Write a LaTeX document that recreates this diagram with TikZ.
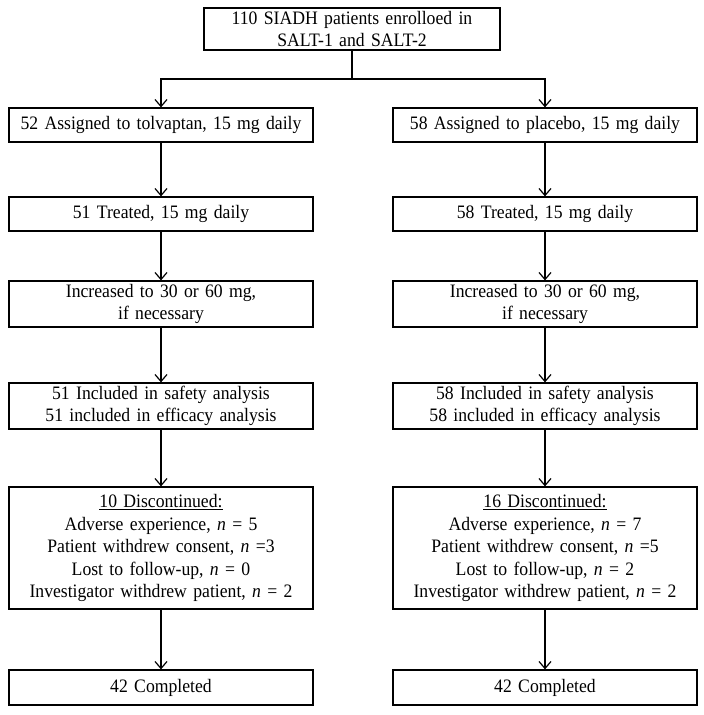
\documentclass[tikz,border=0pt]{standalone}
\usepackage{fontspec}
\setmainfont{Liberation Serif}[FakeStretch=0.93]
\usetikzlibrary{arrows.meta}

\begin{document}
\begin{tikzpicture}[x=1pt, y=-1pt,
    box/.style={draw, line width=1.2pt, inner sep=0pt, align=center, text width=300pt,
      minimum width=304pt, font=\fontsize{19}{22.5}\selectfont},
    flow/.style={line width=1.2pt, -{Straight Barb[length=7pt, width=12pt]}}]
        \useasboundingbox (0,0) rectangle (704,715);
        \node[box, text width=292pt, minimum width=296pt, minimum height=42pt] (enrol) at (352,29)
          {110 SIADH patients enrolloed in\\SALT-1 and SALT-2};
        \coordinate (split) at (352,79);
        % tolvaptan arm
        \node[box, minimum height=34pt] (tolv) at (161,125) {52 Assigned to tolvaptan, 15 mg daily};
        \node[box, minimum height=34pt] (tolvtreat) at (161,214) {51 Treated, 15 mg daily};
        \node[box, minimum height=46pt] (tolvdose) at (161,304) {Increased to 30 or 60 mg,\\if necessary};
        \node[box, minimum height=46pt] (tolvsafe) at (161,406) {51 Included in safety analysis\\51 included in efficacy analysis};
        \node[box, minimum height=122pt] (tolvstop) at (161,548) {\underline{10 Discontinued:}\\
          Adverse experience, \textit{n} = 5\\Patient withdrew consent, \textit{n} =3\\
          Lost to follow-up, \textit{n} = 0\\Investigator withdrew patient, \textit{n} = 2};
        \node[box, minimum height=35pt] (tolvdone) at (161,687.5) {42 Completed};
        % placebo arm
        \node[box, minimum height=34pt] (plac) at (545,125) {58 Assigned to placebo, 15 mg daily};
        \node[box, minimum height=34pt] (plactreat) at (545,214) {58 Treated, 15 mg daily};
        \node[box, minimum height=46pt] (placdose) at (545,304) {Increased to 30 or 60 mg,\\if necessary};
        \node[box, minimum height=46pt] (placsafe) at (545,406) {58 Included in safety analysis\\58 included in efficacy analysis};
        \node[box, minimum height=122pt] (placstop) at (545,548) {\underline{16 Discontinued:}\\
          Adverse experience, \textit{n} = 7\\Patient withdrew consent, \textit{n} =5\\
          Lost to follow-up, \textit{n} = 2\\Investigator withdrew patient, \textit{n} = 2};
        \node[box, minimum height=35pt] (placdone) at (545,687.5) {42 Completed};
        % arrows
        \draw[line width=1.2pt] (enrol) -- (split);
        \draw[flow] (split) -| (tolv);
        \draw[flow] (split) -| (plac);
        \draw[flow] (tolv) -- (tolvtreat);
        \draw[flow] (tolvtreat) -- (tolvdose);
        \draw[flow] (tolvdose) -- (tolvsafe);
        \draw[flow] (tolvsafe) -- (tolvstop);
        \draw[flow] (tolvstop) -- (tolvdone);
        \draw[flow] (plac) -- (plactreat);
        \draw[flow] (plactreat) -- (placdose);
        \draw[flow] (placdose) -- (placsafe);
        \draw[flow] (placsafe) -- (placstop);
        \draw[flow] (placstop) -- (placdone);
      \end{tikzpicture}
\end{document}
